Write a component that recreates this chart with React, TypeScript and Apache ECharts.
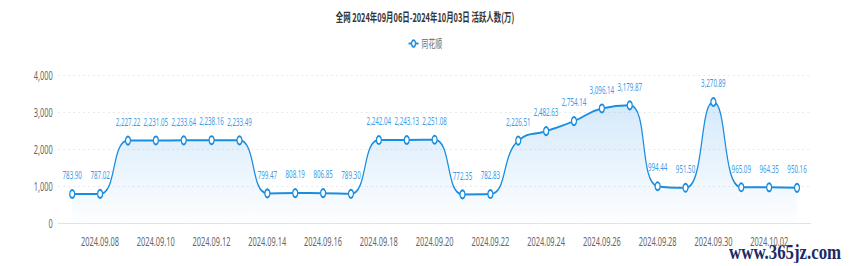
import React, { useEffect, useRef } from "react";
import * as echarts from "echarts";

const titleText = "全网 2024年09月06日-2024年10月03日 活跃人数(万)";
const seriesName = "同花顺";
const categories = [
  "2024.09.07", "2024.09.08", "2024.09.09", "2024.09.10", "2024.09.11", "2024.09.12",
  "2024.09.13", "2024.09.14", "2024.09.15", "2024.09.16", "2024.09.17", "2024.09.18",
  "2024.09.19", "2024.09.20", "2024.09.21", "2024.09.22", "2024.09.23", "2024.09.24",
  "2024.09.25", "2024.09.26", "2024.09.27", "2024.09.28", "2024.09.29", "2024.09.30",
  "2024.10.01", "2024.10.02", "2024.10.03",
];
const values = [
  783.9, 787.02, 2227.22, 2231.05, 2233.64, 2238.16, 2233.49, 799.47, 808.19, 806.85,
  789.3, 2242.04, 2243.13, 2251.08, 772.35, 782.83, 2226.51, 2482.63, 2754.14, 3096.14,
  3179.87, 994.44, 951.5, 3270.89, 965.09, 964.35, 950.16,
];
const watermark = "www.365jz.com";

const SQUISH = 0.62;
const OUTER_W = 850;
const OUTER_H = 266;
const INNER_W = Math.round(OUTER_W / SQUISH);

export default function App() {
  const ref = useRef<HTMLDivElement>(null);
  useEffect(() => {
    document.body.style.margin = "0";
    if (!ref.current) return;
    const chart = echarts.init(ref.current, undefined, { renderer: "svg" });
    const fmt = (v: number) =>
      v.toLocaleString("en-US", { minimumFractionDigits: 2, maximumFractionDigits: 2 });
    chart.setOption({
      animation: false,
      title: {
        text: titleText,
        left: "center",
        top: 6,
        textStyle: { fontSize: 12, fontWeight: "bold", color: "#333", fontFamily: "Noto Sans CJK SC" },
      },
      legend: {
        top: 33,
        left: "center",
        itemWidth: 16,
        itemHeight: 8,
        textStyle: { fontSize: 11, color: "#666", fontFamily: "Noto Sans CJK SC" },
        data: [seriesName],
      },
      grid: { left: Math.round(58 / SQUISH), right: Math.round(39 / SQUISH), top: 75, bottom: 43 },
      xAxis: {
        type: "category",
        data: categories,
        boundaryGap: true,
        axisLine: { lineStyle: { color: "#ddd" } },
        axisTick: { show: false },
        axisLabel: {
          interval: (i: number) => i % 2 === 1,
          color: "#666",
          fontSize: 12,
          margin: 12,
          fontFamily: "Noto Sans",
        },
      },
      yAxis: {
        type: "value",
        min: 0,
        max: 4000,
        interval: 1000,
        axisLine: { show: false },
        axisTick: { show: false },
        axisLabel: { color: "#666", fontSize: 12, margin: 9, fontFamily: "Noto Sans" },
        splitLine: { lineStyle: { color: "#e3e3e3", type: [3, 5] } },
      },
      series: [
        {
          name: seriesName,
          type: "line",
          data: values,
          smooth: true,
          symbol: "emptyCircle",
          symbolSize: 8,
          itemStyle: { color: "#1b8de0", borderWidth: 2 },
          lineStyle: { color: "#1b8de0", width: 2 },
          areaStyle: {
            color: new echarts.graphic.LinearGradient(0, 0, 0, 1, [
              { offset: 0, color: "rgba(120,185,240,0.45)" },
              { offset: 1, color: "rgba(120,185,240,0.02)" },
            ]),
          },
          label: {
            show: true,
            position: "top",
            distance: 9,
            color: "#3a9ce6",
            fontSize: 10,
            fontFamily: "Noto Sans",
            formatter: (p: any) => fmt(p.value),
          },
        },
      ],
      graphic: [
        {
          type: "text",
          x: Math.round(729 / SQUISH),
          y: 242,
          scaleX: 0.84 / SQUISH,
          style: {
            text: watermark,
            fill: "#1c2a66",
            font: "bold 20px 'Liberation Serif', serif",
          },
        },
      ],
    });
    return () => chart.dispose();
  }, []);
  return (
    <div style={{ width: OUTER_W, height: OUTER_H, overflow: "hidden", position: "relative" }}>
      <div
        ref={ref}
        style={{
          width: INNER_W,
          height: OUTER_H,
          transform: `scaleX(${SQUISH})`,
          transformOrigin: "0 0",
        }}
      />
    </div>
  );
}
